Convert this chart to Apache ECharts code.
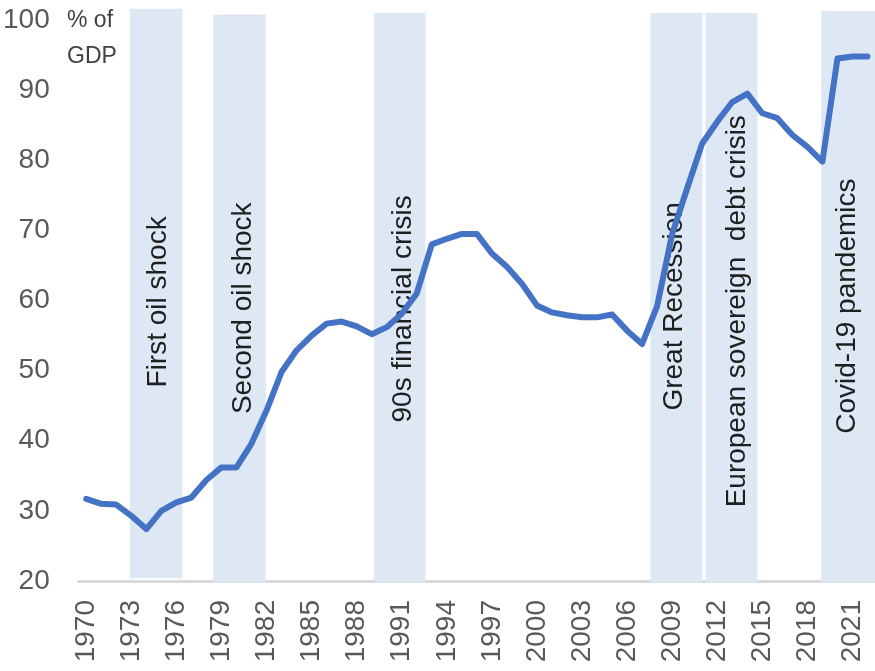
<!DOCTYPE html>
<html>
<head>
<meta charset="utf-8">
<script src="https://cdn.jsdelivr.net/npm/echarts@6/dist/echarts.min.js"></script>
<style>
html,body{margin:0;padding:0;background:#fff;}
#chart{width:875px;height:671px;}
</style>
</head>
<body>
<div id="chart"></div>
<script>
// ---- Data ----
const years = ['1970','1971','1972','1973','1974','1975','1976','1977','1978','1979',
  '1980','1981','1982','1983','1984','1985','1986','1987','1988','1989',
  '1990','1991','1992','1993','1994','1995','1996','1997','1998','1999',
  '2000','2001','2002','2003','2004','2005','2006','2007','2008','2009',
  '2010','2011','2012','2013','2014','2015','2016','2017','2018','2019',
  '2020','2021','2022'];
const debt = [31.7,31.0,30.9,29.3,27.4,30.0,31.2,31.9,34.4,36.2,
  36.2,39.6,44.3,49.8,52.9,55.0,56.7,57.0,56.3,55.2,
  56.2,58.1,61.0,68.0,68.8,69.5,69.5,66.7,64.8,62.4,
  59.3,58.3,57.9,57.6,57.6,58.0,55.7,53.8,59.2,69.5,
  76.0,82.4,85.5,88.3,89.5,86.7,86.0,83.6,81.9,79.8,
  94.5,94.8,94.8];
// crisis names
const crisisNames = ['First oil shock','Second oil shock','90s financial crisis',
  'Great Recession','European sovereign  debt crisis','Covid-19 pandemics'];
// shaded periods (year coordinates, top/bottom in % of GDP)
const bandStart = [1972.90, 1978.45, 1989.15, 2007.55, 2011.22, 2018.92];
const bandEnd   = [1976.40, 1981.95, 1992.58, 2011.02, 2014.68, 2022.5];
const bandTop   = [101.6, 100.8, 101.0, 101.0, 101.0, 101.3];
const bandBottom= [20.4, 19.8, 19.8, 19.8, 19.8, 19.8];
// label anchors (year position, value at text start)
const labelX = [1974.80, 1980.45, 1991.09, 2009.15, 2013.36, 2020.68];
const labelY = [47.6, 43.8, 42.6, 44.3, 30.5, 41.0];
const yTicks = {min: 20, max: 100, step: 10};

// ---- Build ----
const FONT = "'Liberation Sans', Arial, sans-serif";
const bandData = bandStart.map((s, i) => [s, bandEnd[i], bandTop[i], bandBottom[i]]);
const labelData = labelX.map((x, i) => [x, labelY[i], i]);

const chart = echarts.init(document.getElementById('chart'), null, {renderer: 'canvas'});
chart.setOption({
  animation: false,
  backgroundColor: '#ffffff',
  grid: {left: 77, right: 0, top: 20, bottom: 90, containLabel: false},
  xAxis: [{
    type: 'category',
    data: years,
    boundaryGap: true,
    axisLine: {show: true, lineStyle: {color: '#d9d9d9', width: 3}},
    axisTick: {show: false},
    axisLabel: {interval: 2, rotate: 90, margin: 19, fontSize: 28,
      color: '#595959', fontFamily: FONT},
    splitLine: {show: false}
  }, {
    type: 'value',
    min: 1969.5, max: 2022.5,
    show: false,
    splitLine: {show: false}
  }],
  yAxis: {
    type: 'value',
    min: yTicks.min, max: yTicks.max, interval: yTicks.step,
    axisLine: {show: false},
    axisTick: {show: false},
    splitLine: {show: false},
    axisLabel: {margin: 29, fontSize: 28, color: '#595959', fontFamily: FONT}
  },
  graphic: [{
    type: 'text', left: 67, top: 9, z: 10,
    style: {text: '% of', fontSize: 23, fill: '#404040', font: '23px ' + FONT}
  }, {
    type: 'text', left: 67, top: 45, z: 10,
    style: {text: 'GDP', fontSize: 23, fill: '#404040', font: '23px ' + FONT}
  }],
  series: [{
    type: 'custom',
    xAxisIndex: 1,
    clip: false,
    z: 1,
    silent: true,
    data: bandData,
    encode: {x: [0, 1], y: [2, 3]},
    renderItem: function (params, api) {
      const p1 = api.coord([api.value(0), api.value(2)]);
      const p2 = api.coord([api.value(1), api.value(3)]);
      return {type: 'rect',
        shape: {x: p1[0], y: p1[1], width: p2[0] - p1[0], height: p2[1] - p1[1]},
        style: {fill: '#dde8f4'}};
    }
  }, {
    type: 'custom',
    xAxisIndex: 1,
    clip: false,
    z: 2,
    silent: true,
    data: labelData,
    encode: {x: 0, y: 1},
    renderItem: function (params, api) {
      const p = api.coord([api.value(0), api.value(1)]);
      return {type: 'text', x: p[0], y: p[1], rotation: Math.PI / 2,
        style: {text: crisisNames[params.dataIndex], fill: '#1f1f1f',
          font: '28px ' + FONT, align: 'left', verticalAlign: 'middle'}};
    }
  }, {
    type: 'line',
    data: debt,
    z: 5,
    symbol: 'none',
    smooth: false,
    lineStyle: {color: '#4472c4', width: 6, cap: 'round', join: 'round'}
  }]
});
</script>
</body>
</html>
